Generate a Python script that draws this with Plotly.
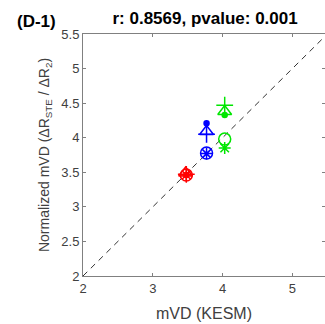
import plotly.graph_objects as go

# mVD per subject: KESM (x) vs normalized STE-based estimate (y), one entry per method
methods = ["triangle", "circle", "plus", "asterisk", "dot"]
symbols = ["triangle-up-open", "circle-open", "cross-thin-open", "asterisk-open", "circle"]
sizes = [12, 12, 12, 10, 5]

subject_colors = ["#ff0000", "#0000ff", "#00e600"]

kesm_red = [3.47, 3.48, 3.48, 3.48, 3.48]
norm_red = [3.49, 3.46, 3.47, 3.46, 3.46]

kesm_blue = [3.77, 3.77, 3.77, 3.77, 3.77]
norm_blue = [4.09, 3.78, 4.05, 3.77, 4.21]

kesm_green = [4.03, 4.03, 4.03, 4.03, 4.03]
norm_green = [4.38, 3.98, 4.47, 3.85, 4.33]

x_ticks = [2, 3, 4, 5]
y_ticks = [2, 2.5, 3, 3.5, 4, 4.5, 5, 5.5]
identity = [2, 5.5]

title_text = "r: 0.8569, pvalue: 0.001"
panel_label = "(D-1)"

FONT = "Liberation Sans, Arial"

fig = go.Figure()

# identity line
fig.add_trace(go.Scatter(
    x=identity, y=identity, mode="lines",
    line=dict(color="#333333", width=1, dash="6px,5px"),
    hoverinfo="skip", showlegend=False,
))

for color, xs, ys in zip(subject_colors,
                         [kesm_red, kesm_blue, kesm_green],
                         [norm_red, norm_blue, norm_green]):
    for xv, yv, sym, sz in zip(xs, ys, symbols, sizes):
        fig.add_trace(go.Scatter(
            x=[xv], y=[yv], mode="markers", showlegend=False,
            marker=dict(symbol=sym, size=sz, color=color,
                        line=dict(color=color, width=1.5)),
        ))

axis_common = dict(
    showgrid=False, zeroline=False, showline=True, mirror="ticks",
    linecolor="#808080", linewidth=1, ticks="inside", ticklen=3,
    tickcolor="#808080", tickfont=dict(family=FONT, size=13, color="#404040"),
)

fig.update_xaxes(range=[2, 5.467], tickvals=x_ticks, ticktext=[str(v) for v in x_ticks],
                 title=dict(text="mVD (KESM)", standoff=13,
                            font=dict(family=FONT, size=16, color="#404040")),
                 **axis_common)
fig.update_yaxes(range=[2, 5.5], tickvals=y_ticks, ticktext=[f"{v:g}" for v in y_ticks],
                 title=dict(text="Normalized mVD (ΔR<sub>STE</sub> / ΔR<sub>2</sub>)", standoff=8,
                            font=dict(family=FONT, size=14, color="#404040")),
                 **axis_common)

fig.update_layout(
    width=325, height=324,
    margin=dict(l=83, r=0, t=34, b=48),
    paper_bgcolor="white", plot_bgcolor="white",
    title=dict(text=f"<b>{title_text}</b>", x=0.631, xanchor="center", y=0.944, yanchor="middle",
               font=dict(family=FONT, size=17, color="#000000")),
    annotations=[dict(text=f"<b>{panel_label}</b>", xref="paper", yref="paper",
                      x=-0.194, y=1.05, xanchor="center", yanchor="middle", showarrow=False,
                      font=dict(family=FONT, size=17, color="#000000"))],
)

fig.write_html("out.html")
